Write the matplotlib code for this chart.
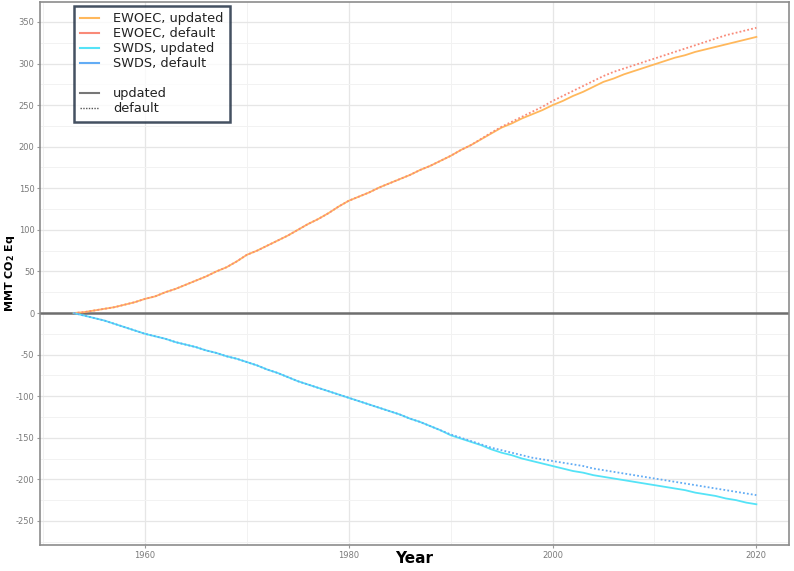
import matplotlib
matplotlib.use('Agg')
import matplotlib.pyplot as plt
from matplotlib.lines import Line2D

plt.rcParams['axes.unicode_minus'] = False

# years of the series
years = list(range(1953, 2021))

# EWOEC (positive side)
ewoec_updated = [0, 1, 3, 5, 7, 10, 13, 17, 20, 25,
                 29, 34, 39, 44, 50, 55, 62, 70, 75, 81,
                 87, 93, 100, 107, 113, 120, 128, 135, 140, 145,
                 151, 156, 161, 166, 172, 177, 183, 189, 196, 202,
                 209, 216, 223, 228, 234, 239, 244, 250, 255, 261,
                 266, 272, 278, 282, 287, 291, 295, 299, 303, 307,
                 310, 314, 317, 320, 323, 326, 329, 332]
ewoec_default = [0, 1, 3, 5, 7, 10, 13, 17, 20, 25,
                 29, 34, 39, 44, 50, 55, 62, 70, 75, 81,
                 87, 93, 100, 107, 113, 120, 128, 135, 140, 145,
                 151, 156, 161, 166, 172, 177, 183, 189, 196, 202,
                 209.5, 217, 224, 230, 236, 242, 248, 255, 261, 267,
                 273, 279, 285, 290, 294, 298, 302, 306, 310, 314,
                 318, 322, 326, 330, 334, 337, 340, 343]

# SWDS (negative side)
swds_updated = [0, -3, -6, -9, -13, -17, -21, -25, -28, -31,
                -35, -38, -41, -45, -48, -52, -55, -59, -63, -68,
                -72, -77, -82, -86, -90, -94, -98, -102, -106, -110,
                -114, -118, -122, -127, -131, -136, -141, -147, -151, -155,
                -159, -164, -168, -171, -175, -178, -181, -184, -187, -190,
                -192, -195, -197, -199, -201, -203, -205, -207, -209, -211,
                -213, -216, -218, -220, -223, -225, -228, -230]
swds_default = [0, -3, -6, -9, -13, -17, -21, -25, -28, -31,
                -35, -38, -41, -45, -48, -52, -55, -59, -63, -68,
                -72, -77, -82, -86, -90, -94, -98, -102, -106, -110,
                -114, -118, -122, -127, -131, -136, -141, -146, -150, -154,
                -158, -162, -165, -168, -171, -174, -176, -178, -180, -182,
                -184, -187, -189, -191, -193, -195, -197, -199, -201, -203,
                -205, -207, -209, -211, -213, -215, -217, -219]

x_ticks = [1960, 1980, 2000, 2020]
y_ticks = [-250, -200, -150, -100, -50, 0, 50, 100, 150, 200, 250, 300, 350]

c_ew_up = '#FFB85C'
c_ew_def = '#F98A78'
c_sw_up = '#55E3F7'
c_sw_def = '#62ACF5'

fig = plt.figure(figsize=(7.94, 5.71), dpi=100)
ax = fig.add_axes([0.0504, 0.0455, 0.9433, 0.951])

ax.set_xlim(1949.7, 2023.2)
ax.set_ylim(-279, 374)

# grid like ggplot theme_bw
ax.set_xticks(x_ticks)
ax.set_yticks(y_ticks)
ax.set_xticks([1950, 1970, 1990, 2010], minor=True)
ax.set_yticks([v + 25 for v in y_ticks[:-1]] + [-275], minor=True)
ax.grid(True, which='major', color='#E6E6E6', lw=0.9)
ax.grid(True, which='minor', color='#F2F2F2', lw=0.7)
ax.set_axisbelow(True)

ax.axhline(0, color='#6E6E6E', lw=1.8, zorder=1)

ax.plot(years, ewoec_default, color=c_ew_def, lw=1.3, ls=(0, (1, 1.2)), zorder=3)
ax.plot(years, ewoec_updated, color=c_ew_up, lw=1.3, zorder=2)
ax.plot(years, swds_default, color=c_sw_def, lw=1.3, ls=(0, (1, 1.2)), zorder=3)
ax.plot(years, swds_updated, color=c_sw_up, lw=1.3, zorder=2)

for s in ax.spines.values():
    s.set_color('#8C8C8C')
    s.set_linewidth(1.2)

ax.tick_params(which='major', length=2.5, color='#999999', labelsize=6,
               labelcolor='#7A7A7A', pad=1.5)
ax.tick_params(which='minor', length=0)

ax.set_xlabel('Year', fontsize=11, fontweight='bold', va='center')
ax.xaxis.set_label_coords(0.5, -0.024)
ax.set_ylabel('MMT CO$_\\mathbf{2}$ Eq', fontsize=8, fontweight='bold', va='center')
ax.yaxis.set_label_coords(-0.04, 0.5)

handles = [
    Line2D([], [], color=c_ew_up, lw=1.5),
    Line2D([], [], color=c_ew_def, lw=1.5),
    Line2D([], [], color=c_sw_up, lw=1.5),
    Line2D([], [], color=c_sw_def, lw=1.5),
    Line2D([], [], color='none'),
    Line2D([], [], color='#777777', lw=1.5),
    Line2D([], [], color='#555555', lw=1.0, ls=(0, (1, 1))),
]
labels = ['EWOEC, updated', 'EWOEC, default', 'SWDS, updated', 'SWDS, default',
          '', 'updated', 'default']
leg = ax.legend(handles, labels, loc='upper left', bbox_to_anchor=(74 / 794, 1 - 6 / 571),
                bbox_transform=fig.transFigure, fontsize=9.3, frameon=True,
                fancybox=False, handlelength=1.4, handletextpad=1.1,
                labelspacing=0.15, borderpad=0.5, borderaxespad=0)
leg.get_frame().set_edgecolor('#15253A')
leg.get_frame().set_linewidth(1.8)
for t in leg.get_texts():
    t.set_color('#222222')

fig.savefig('out.png', dpi=100)
